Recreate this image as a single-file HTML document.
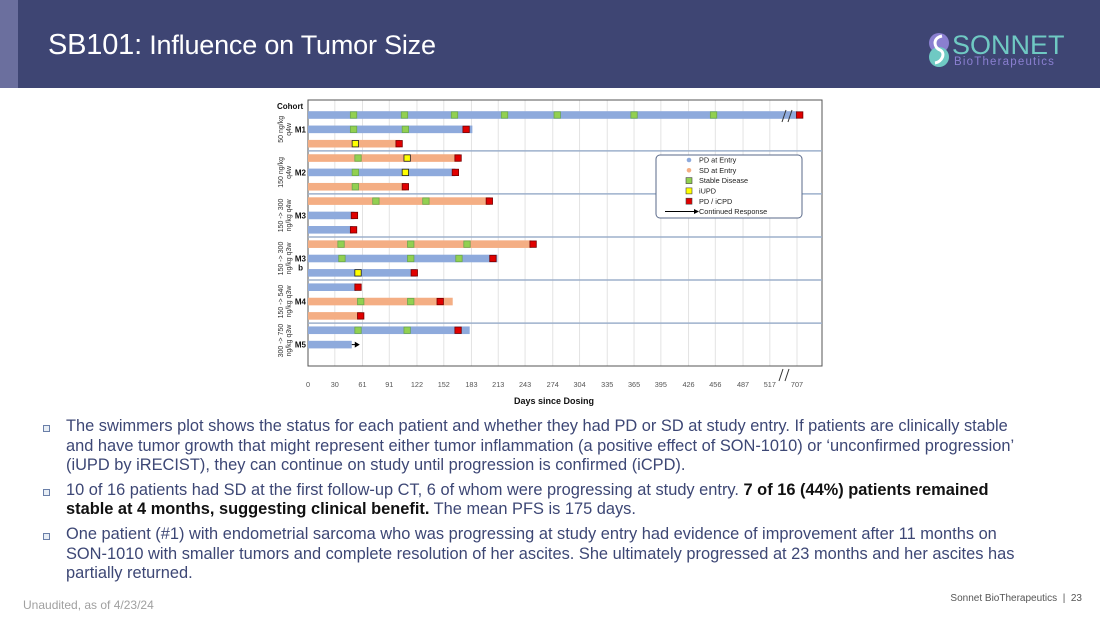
<!DOCTYPE html>
<html><head><meta charset="utf-8">
<style>
body{margin:0;width:1100px;height:619px;overflow:hidden;background:#fff;font-family:"Liberation Sans",sans-serif;position:relative}
.hdr{position:absolute;left:0;top:0;width:1100px;height:88px;background:#3e4573}
.strip{position:absolute;left:0;top:0;width:18px;height:88px;background:#6b6f9e}
.title{position:absolute;left:48px;top:29px;color:#fff;font-size:27px;letter-spacing:-0.2px}
.title b{font-weight:normal;font-size:29px}
.logo{position:absolute;left:920px;top:30px}
.body{position:absolute;left:40px;top:417px;width:982px;color:#3d4775;font-size:16.4px;line-height:19.6px}
.body p{margin:0 0 5px 0;padding-left:26px;position:relative}
.body p:before{content:"";position:absolute;left:3px;top:8px;width:5px;height:5px;border:1px solid #6a7fa8;background:#e8eef5}
.body strong{color:#111;font-weight:bold}
.foot{position:absolute;left:23px;top:598px;font-size:12px;color:#a0a0a0}
.pg{position:absolute;right:18px;top:593px;font-size:10px;color:#555}
</style></head><body>
<div class="hdr"><div class="strip"></div>
<div class="title"><b>SB101:</b> Influence on Tumor Size</div>
<svg class="logo" width="160" height="40">
<circle cx="19" cy="13" r="10" fill="#8a7fd0"/><circle cx="19" cy="27" r="10" fill="#6fc9c3"/>
<path d="M22 6 C12 8 14 18 20 20 C26 23 22 32 15 33" stroke="#fff" stroke-width="3" fill="none"/>
<text x="32" y="24" font-size="27" fill="#6fc9c3" font-family="Liberation Sans">SONNET</text>
<text x="34" y="35" font-size="11.5" fill="#8a7fd0" letter-spacing="1.2" font-family="Liberation Sans">BioTherapeutics</text>
</svg></div>

<svg id="chart" width="1100" height="619" style="position:absolute;left:0;top:0"></svg>

<div class="body">
<p>The swimmers plot shows the status for each patient and whether they had PD or SD at study entry. If patients are clinically stable and have tumor growth that might represent either tumor inflammation (a positive effect of SON-1010) or ‘unconfirmed progression’ (iUPD by iRECIST), they can continue on study until progression is confirmed (iCPD).</p>
<p>10 of 16 patients had SD at the first follow-up CT, 6 of whom were progressing at study entry. <strong>7 of 16 (44%) patients remained stable at 4 months, suggesting clinical benefit.</strong> The mean PFS is 175 days.</p>
<p>One patient (#1) with endometrial sarcoma who was progressing at study entry had evidence of improvement after 11 months on SON-1010 with smaller tumors and complete resolution of her ascites. She ultimately progressed at 23 months and her ascites has partially returned.</p>
</div>
<div class="foot">Unaudited, as of 4/23/24</div>
<div class="pg">Sonnet BioTherapeutics &nbsp;|&nbsp; 23</div>

<script>
const tickLabels=[0,30,61,91,122,152,183,213,243,274,304,335,365,395,426,456,487,517,707];
const entry=['PD','PD','SD','SD','PD','SD','SD','PD','PD','SD','PD','PD','PD','SD','SD','PD','PD'];
const barEnd=[707,184,103,170,165,110,204,52,50,250,212,121,54,162,60,181,49];
const sdDays=[[51,108,164,220,279,365,454],[51,109],[],[56],[53],[53],[76,132],[],[],[37,115,178],[38,115,169],[],[],[59,115],[],[56,111],[]];
const iupdDays=[[],[],[53],[111],[109],[],[],[],[],[],[],[56],[],[],[],[],[]];
const pdDays=[710,177,102,168,165,109,203,52,51,252,207,119,56,148,59,168,null];
const continued=[false,false,false,false,false,false,false,false,false,false,false,false,false,false,false,false,true];
const cohorts=['M1','M2','M3','M3\nb','M4','M5'];
const cohortDose=[['50 ng/kg','q4w'],['150 ng/kg','q4w'],['150 -> 300','ng/kg q4w'],['150 -> 300','ng/kg q3w'],['150 -> 540','ng/kg q3w'],['300 -> 750','ng/kg q3w']];
const cohortRows=[[0,2],[3,5],[6,8],[9,11],[12,14],[15,16]];

const svg=document.getElementById('chart');const NS='http://www.w3.org/2000/svg';
function mk(t,a,p){const e=document.createElementNS(NS,t);for(const k in a)e.setAttribute(k,a[k]);(p||svg).appendChild(e);return e;}
const X0=308,PX=0.8933,BREAK=517,X707=797;
function x(d){return d<=BREAK+20?X0+d*PX:X707+(d-707)*PX;}
function y(i){return 115+i*14.35;}
const L=308,R=822,T=100,B=366;
tickLabels.forEach((t,i)=>{const xx=i<18?x(t):X707;
 const g=mk('line',{x1:xx,x2:xx,y1:T,y2:B,stroke:'#e3e3e3','stroke-width':1});
 
 const tx=mk('text',{x:xx,y:387,'font-size':7.3,'text-anchor':'middle',fill:'#555'});tx.textContent=t;
 });
mk('rect',{x:L,y:T,width:R-L,height:B-T,fill:'none',stroke:'#555','stroke-width':1});
for(let c=0;c<cohortRows.length-1;c++){const yy=(y(cohortRows[c][1])+y(cohortRows[c+1][0]))/2;
 const s=mk('line',{x1:L,x2:R,y1:yy,y2:yy,stroke:'#9db0cc','stroke-width':1.5});
 }
cohorts.forEach((c,i)=>{const r=cohortRows[i];
 const ym=(r[1]-r[0]===2)?y(r[0]+1):y(r[1]);
 const yc=ym+3;
 const parts=c.split('\n');
 const t=mk('text',{x:306,y:yc,'font-size':8,'font-weight':'bold','text-anchor':'end',fill:'#111'});t.textContent=parts[0];
 
 if(parts[1]){const t2=mk('text',{x:303,y:yc+9,'font-size':8,'font-weight':'bold','text-anchor':'end',fill:'#111'});t2.textContent=parts[1];
 }
 const yc2=(i===5)?ym-4:ym;const d=cohortDose[i];
 const g=mk('text',{transform:`translate(283,${yc2}) rotate(-90)`,'font-size':7,'text-anchor':'middle',fill:'#333'});
 const a=mk('tspan',{x:0,dy:0},g);a.textContent=d[0];const b=mk('tspan',{x:0,dy:8},g);b.textContent=d[1];
 });
const ch=mk('text',{x:277,y:109,'font-size':8,'font-weight':'bold',fill:'#111'});ch.textContent='Cohort';

function sq(xx,yy,fill,stroke,name){const r=mk('rect',{x:xx-3.2,y:yy-3.2,width:6.4,height:6.4,fill:fill,stroke:stroke,'stroke-width':0.8});
 }
entry.forEach((e,i)=>{const yy=y(i);
 const b=mk('rect',{x:X0,y:yy-3.8,width:x(barEnd[i])-X0,height:7.6,fill:e==='PD'?'#8eaadc':'#f4ae84'});
 
 sdDays[i].forEach(d=>sq(x(d),yy,'#92d050','#6aa84f','sd-marker'));
 iupdDays[i].forEach(d=>sq(x(d),yy,'#ffff00','#222','iupd-marker'));
 if(pdDays[i]!==null)sq(x(pdDays[i]),yy,'#e00000','#700','pd-marker');
 if(continued[i]){const xe=x(barEnd[i]);const a=mk('line',{x1:xe,x2:xe+5,y1:yy,y2:yy,stroke:'#000','stroke-width':1});
  
  const p=mk('path',{d:`M${xe+8} ${yy} L${xe+3} ${yy-3} L${xe+3} ${yy+3}Z`,fill:'#000'});
  }
});
[[784,116],[790,116],[781,375],[787,375]].forEach(p=>{const l=mk('line',{x1:p[0]-2,y1:p[1]+6,x2:p[0]+2,y2:p[1]-6,stroke:'#333','stroke-width':1});
 });
const xt=mk('text',{x:554,y:404,'font-size':9,'font-weight':'bold','text-anchor':'middle',fill:'#111'});xt.textContent='Days since Dosing';

const lg=mk('rect',{x:656,y:155,width:146,height:63,rx:4,fill:'#fff',stroke:'#5a6a8a','stroke-width':1});

const items=[['PD at Entry','c','#8eaadc'],['SD at Entry','c','#f4ae84'],['Stable Disease','s','#92d050'],['iUPD','s','#ffff00'],['PD / iCPD','s','#e00000'],['Continued Response','a','#000']];
items.forEach((it,i)=>{const yy=160+i*10.3;
 if(it[1]==='c')mk('circle',{cx:689,cy:yy,r:2.3,fill:it[2]});
 else if(it[1]==='s')mk('rect',{x:686,y:yy-3,width:6,height:6,fill:it[2],stroke:'#444','stroke-width':0.6});
 else{mk('line',{x1:665,x2:694,y1:yy,y2:yy,stroke:'#000','stroke-width':1});mk('path',{d:`M699 ${yy} L694 ${yy-2.5} L694 ${yy+2.5}Z`,fill:'#000'});}
 const t=mk('text',{x:699,y:yy+2.6,'font-size':7.3,fill:'#222'});t.textContent=it[0];
 });
</script>
</body></html>
